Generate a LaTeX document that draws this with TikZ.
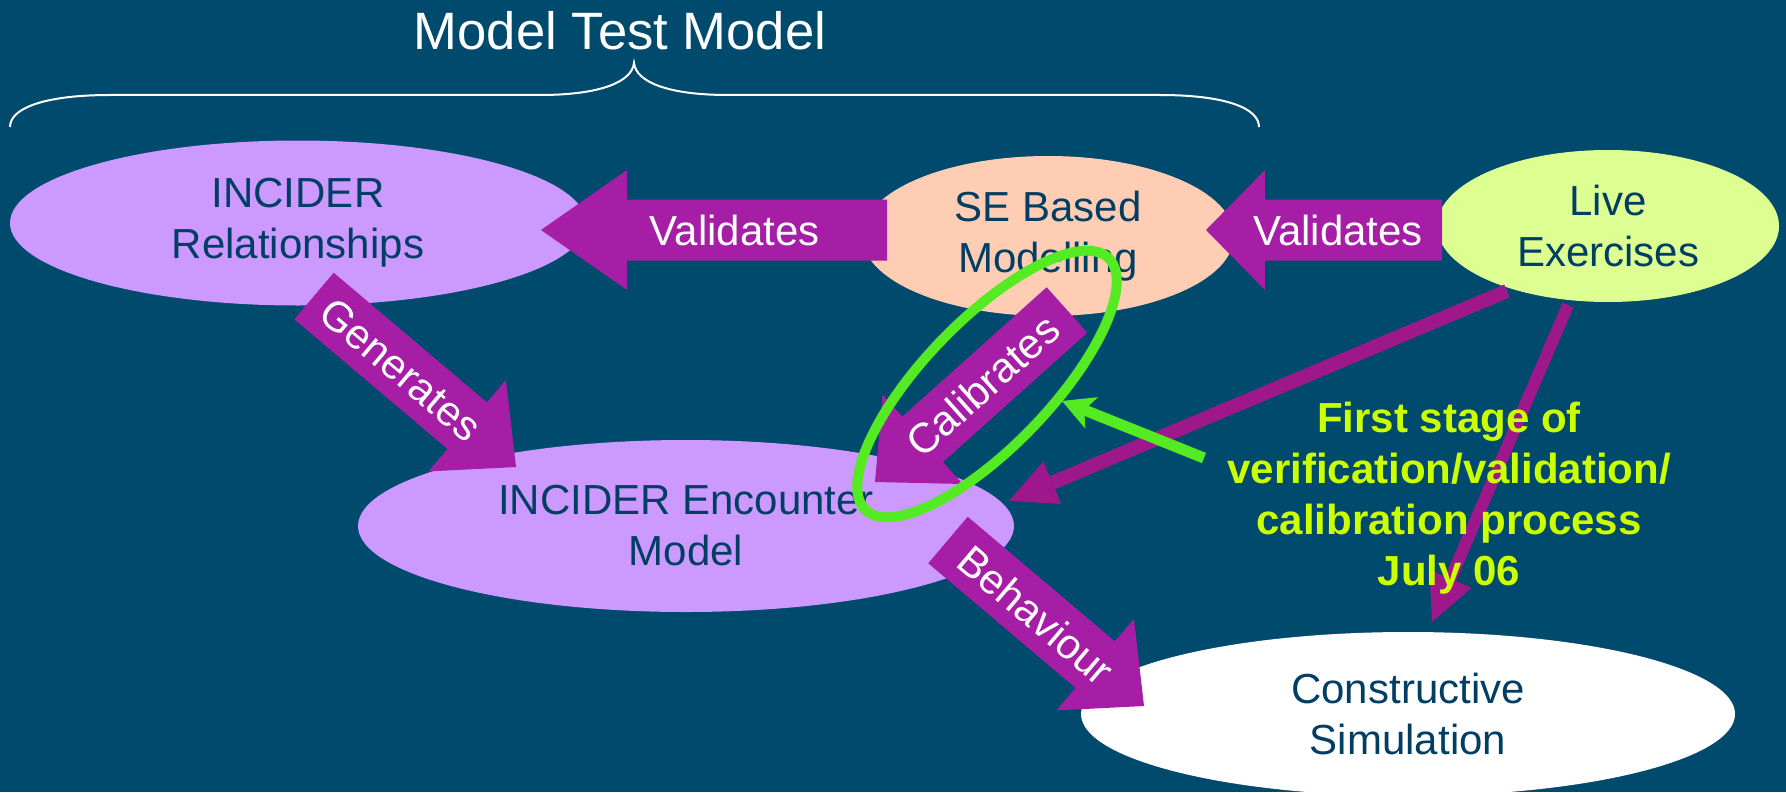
\documentclass[tikz,border=0pt]{standalone}
\usepackage{fontspec}
\setmainfont{Liberation Sans}
\usepackage{xcolor}
\usetikzlibrary{shapes, arrows.meta, calc}

\begin{document}
\begin{tikzpicture}[x=0.5pt, y=-0.5pt]

	\definecolor{my_back}{RGB}{0,74,110}
\definecolor{my_navy}{RGB}{0,62,100}
\definecolor{my_lilac}{RGB}{204,153,255}
\definecolor{my_peach}{RGB}{255,205,180}
\definecolor{my_lime}{RGB}{221,255,145}
\definecolor{my_purple}{RGB}{166,29,166}
\definecolor{my_purple_dark}{RGB}{158,24,140}
\definecolor{my_green}{RGB}{85,235,35}
\definecolor{my_yellow}{RGB}{204,255,0}

\tikzset{head len/.store in=\headlen, head len=32pt}

\tikzstyle{bubble} = [ellipse, inner sep=0pt, text=my_navy, align=center, font=\fontsize{21}{25.5}\selectfont]
\tikzstyle{blockarrow} = [fill=my_purple, to path={
	($(\tikztostart)!15.25pt!90:(\tikztotarget)$)
	-- ($(\tikztotarget)!\headlen!(\tikztostart)!15.25pt!-90:(\tikztostart)$)
	-- ($(\tikztotarget)!\headlen!(\tikztostart)!30pt!-90:(\tikztostart)$)
	-- (\tikztotarget)
	-- ($(\tikztotarget)!\headlen!(\tikztostart)!30pt!90:(\tikztostart)$)
	-- ($(\tikztotarget)!\headlen!(\tikztostart)!15.25pt!90:(\tikztostart)$)
	-- ($(\tikztostart)!15.25pt!-90:(\tikztotarget)$) -- cycle}]
\tikzstyle{arrowtext} = [text=white, font=\fontsize{21}{25.5}\selectfont, sloped]
\tikzstyle{line} = [draw=my_purple_dark, -{Triangle[length=23.5pt, width=23pt, line width=0pt]}]
\tikzstyle{note_line} = [draw=my_green, line width=5.5pt, -{Stealth[length=16pt, width=17pt, inset=4pt, line width=0pt]}]

	\useasboundingbox (0,0) rectangle (1786,792);
	\fill [my_back] (0,0) rectangle (1786,792);

	\node [text=white, font=\fontsize{26.3}{30}\selectfont, anchor=base] (title) at (620,50) {Model Test Model};
	\draw [white, line width=1pt] (10,127) .. controls (10,108) and (45,95) .. (110,95) -- (540,95)
		.. controls (600,95) and (632,82) .. (634,63) .. controls (636,82) and (668,95) .. (728,95)
		-- (1160,95) .. controls (1225,95) and (1259,108) .. (1259,127);

	\node [bubble, fill=my_lilac, minimum width=288pt, minimum height=82.5pt] (rel) at (298,223) {INCIDER\\Relationships};
	\node [bubble, fill=my_peach, minimum width=186pt, minimum height=80pt] (se) at (1048,236) {SE Based\\Modelling};
	\node [bubble, fill=my_lime, minimum width=171pt, minimum height=76pt] (live) at (1608,226) {Live\\Exercises};
	\node [bubble, fill=my_lilac, minimum width=328pt, minimum height=86pt] (enc) at (686,526) {INCIDER Encounter\\Model};
	\node [bubble, fill=white, minimum width=327pt, minimum height=82pt] (con) at (1408,714) {Constructive\\Simulation};

	\coordinate (val1_tail) at (887,230);
	\coordinate (val1_tip) at (541,230);
	\coordinate (val2_tail) at (1442,230);
	\coordinate (val2_tip) at (1206,230);
	\coordinate (gen_tail) at (314,296);
	\coordinate (gen_tip) at (516,467);
	\coordinate (cal_tail) at (1067,310);
	\coordinate (cal_tip) at (875,482);
	\coordinate (beh_tail) at (948,540);
	\coordinate (beh_tip) at (1144,706);

	\path [blockarrow, head len=43pt] (val1_tail) to (val1_tip);
	\path [blockarrow, head len=29.5pt] (val2_tail) to (val2_tip);
	\path [blockarrow] (gen_tail) to (gen_tip);
	\path [blockarrow] (cal_tail) to (cal_tip);
	\path [blockarrow] (beh_tail) to (beh_tip);

	\path (val1_tail) -- node [arrowtext, pos=0.44] {Validates} (val1_tip);
	\path (val2_tail) -- node [arrowtext, pos=0.44] {Validates} (val2_tip);
	\path (gen_tail) -- node [arrowtext, pos=0.43] {Generates} (gen_tip);
	\path (cal_tail) -- node [arrowtext, pos=0.44] {Calibrates} (cal_tip);
	\path (beh_tail) -- node [arrowtext, pos=0.45] {Behaviour} (beh_tip);

	\coordinate (ex1_start) at (1507,291);
	\coordinate (ex1_end) at (1009,501);
	\coordinate (ex2_start) at (1568,305);
	\coordinate (ex2_end) at (1432,622);

	\path [line, line width=7pt] (ex1_start) -- (ex1_end);
	\path [line, line width=6pt] (ex2_start) -- (ex2_end);

	\node [text=my_yellow, font=\bfseries\fontsize{21}{25.5}\selectfont, align=center, inner sep=0pt] (stage) at (1449,498) {First stage of\\verification/validation/\\calibration process\\July 06};

	\node [ellipse, draw=my_green, line width=5pt, minimum width=175pt, minimum height=63pt, rotate=46, inner sep=0pt] (ring) at (987,384) {};
	\coordinate (note_start) at (1204,458);
	\coordinate (note_end) at (1062,401);
	\path [note_line] (note_start) -- (note_end);

\end{tikzpicture}
\end{document}
